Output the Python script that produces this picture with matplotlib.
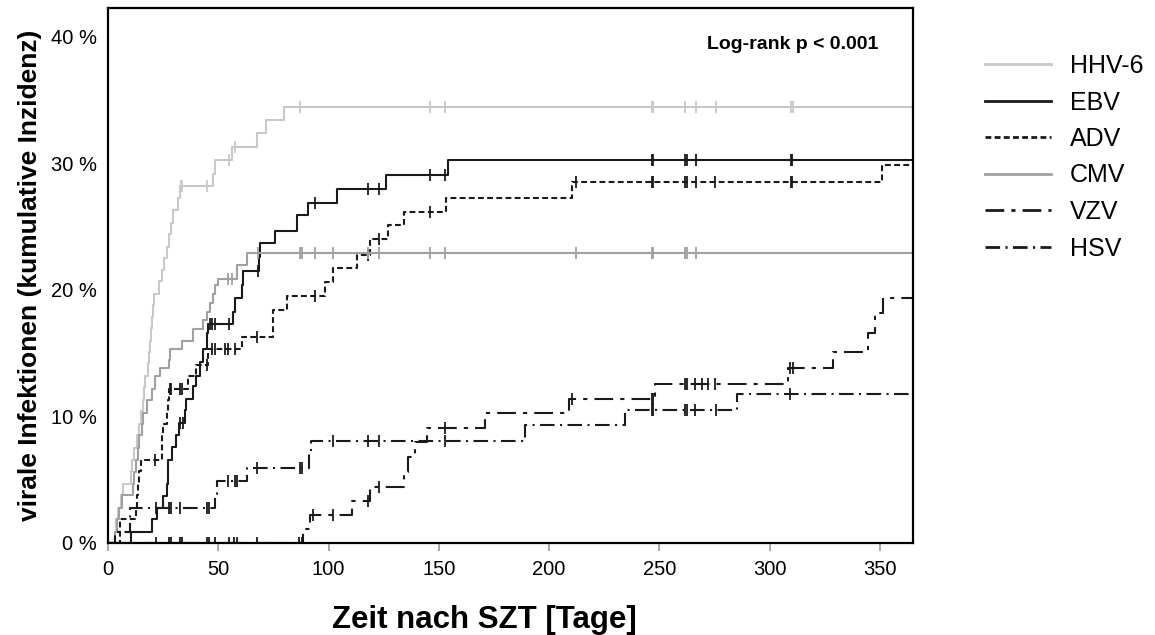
import numpy as np
import matplotlib.pyplot as plt
from matplotlib.lines import Line2D

plt.rcParams['font.family'] = ['Liberation Sans', 'DejaVu Sans']

T_END = 365

# event days and cumulative incidence (%) after each event, plus censoring days
hhv6_t = [3, 3.5, 4.5, 6, 7, 10.5, 11, 12, 13, 14, 15, 16, 16.5, 17, 18, 18.5, 19, 19.5,
          20, 20.5, 21, 23.1, 24.3, 25.5, 26.6, 27.5, 28.4, 29.5, 31.7, 32.5, 47.6, 48.5,
          56, 67.6, 71.7, 80]
hhv6_y = [0.9, 1.9, 2.8, 3.8, 4.7, 5.7, 6.6, 7.5, 8.5, 9.4, 10.4, 11.3, 12.3, 13.2, 14.2,
          15.1, 16.0, 17.0, 17.9, 18.8, 19.7, 20.7, 21.6, 22.5, 23.4, 24.4, 25.3, 26.3,
          27.3, 28.2, 29.2, 30.3, 31.3, 32.4, 33.4, 34.5]
hhv6_cens = [33, 33.4, 44.7, 54.8, 57.5, 87, 146, 153, 246.5, 247.3, 261.7, 266.7,
             275.7, 309.6, 310.5, 365]

ebv_t = [10.3, 19.8, 22, 25, 26.6, 27.2, 27.4, 28.9, 31, 32, 35, 35.2, 38.7, 40, 41.7,
         43.2, 44.8, 45.5, 56.8, 57.6, 60.6, 61.4, 68.5, 68.7, 75.7, 85.6, 90.8, 103.7,
         126, 154]
ebv_y = [0.9, 1.9, 2.8, 3.7, 4.7, 5.6, 6.6, 7.6, 8.5, 9.5, 10.5, 11.4, 12.4, 13.2, 14.3,
         15.3, 16.6, 17.3, 18.3, 19.4, 20.4, 21.5, 22.6, 23.7, 24.7, 25.9, 26.9, 28.0,
         29.1, 30.3]
ebv_cens = [32.7, 33.9, 46.3, 47, 48.5, 55, 68.2, 93.9, 118, 123, 146, 153, 246.5, 247.3,
            261.7, 262.4, 266.7, 309.6, 310.3, 365]

adv_t = [5.4, 5.6, 12.5, 13, 13.5, 14, 15, 24.3, 24.6, 25, 26.6, 27.2, 27.8, 36.4, 40,
         45.5, 60.6, 74.7, 75, 81, 98.6, 102, 113, 118.8, 127, 134.2, 153.2, 210.3, 350.9]
adv_y = [0.9, 1.9, 2.8, 3.8, 4.7, 5.7, 6.6, 7.5, 8.5, 9.4, 10.4, 11.3, 12.2, 13.2, 14.1,
         15.3, 16.3, 17.4, 18.4, 19.5, 20.6, 21.7, 22.8, 24.0, 25.1, 26.2, 27.3, 28.5, 29.9]
adv_cens = [21.3, 28.0, 28.4, 32.7, 33.4, 44.7, 47, 48.5, 53, 54.6, 57.6, 67.4, 93.9,
            118, 123, 146, 212, 246.5, 247.3, 261.7, 262.4, 266.7, 275.3, 309.6, 310.3, 365]

cmv_t = [3, 4, 5, 6.2, 11.5, 12, 12.5, 13.5, 14, 15.5, 16, 17.5, 19.8, 21.3, 23.6, 27.5,
         28, 33.4, 38.6, 43.2, 44.8, 46.3, 47.8, 48.5, 50, 58.4, 62.9]
cmv_y = [0.9, 1.9, 2.8, 3.8, 4.7, 5.6, 6.6, 7.5, 8.5, 9.4, 10.3, 11.3, 12.2, 13.2, 13.8,
         14.5, 15.3, 16.0, 16.9, 17.6, 18.3, 19.0, 19.7, 20.4, 20.9, 22.0, 22.95]
cmv_cens = [54.6, 56, 68.2, 87, 87.8, 94, 102, 118, 123, 146, 153, 212, 246.5, 247.3,
            261.7, 262.4, 266.7, 365]

vzv_t = [88.5, 91.5, 110.5, 118.8, 134, 136.2, 139.2, 144.5, 171, 208.8, 248, 308.5,
         328.6, 344.8, 347.8, 351.6]
vzv_y = [1.1, 2.2, 3.3, 4.4, 5.6, 6.8, 8.0, 9.1, 10.25, 11.4, 12.6, 13.8, 15.1, 16.6,
         18.2, 19.4]
vzv_cens = [21.8, 27.8, 28.4, 32.7, 33.4, 45, 46, 48.5, 55, 57, 58.4, 67.4, 86.8, 87.8,
            92.8, 102, 118, 123, 152.8, 210.3, 246.5, 247.3, 261.7, 262.4, 266, 269.5,
            272.2, 275.3, 309.3, 310.5, 365]

hsv_t = [3, 10, 10.2, 48.5, 49.5, 63, 91, 92, 189, 234.5, 285]
hsv_y = [0.9, 1.9, 2.8, 3.9, 4.9, 5.9, 7.0, 8.1, 9.3, 10.5, 11.75]
hsv_cens = [21.8, 27.7, 28.6, 32.7, 45, 46, 54.6, 57.6, 58.4, 67.4, 87, 87.8, 102, 118,
            123, 153, 246.5, 247.3, 261.7, 262.4, 266, 275.7, 309.3, 365]

labels = ['HHV-6', 'EBV', 'ADV', 'CMV', 'VZV', 'HSV']
series = [(hhv6_t, hhv6_y, hhv6_cens), (ebv_t, ebv_y, ebv_cens), (adv_t, adv_y, adv_cens),
          (cmv_t, cmv_y, cmv_cens), (vzv_t, vzv_y, vzv_cens), (hsv_t, hsv_y, hsv_cens)]

styles = {
    'HHV-6': dict(color='#c8c8c8', dashes=None),
    'EBV': dict(color='#1a1a1a', dashes=None),
    'ADV': dict(color='#1a1a1a', dashes=(2.8, 1.6)),
    'CMV': dict(color='#a0a0a0', dashes=None),
    'VZV': dict(color='#1a1a1a', dashes=(9.0, 3.4, 2.0, 3.4)),
    'HSV': dict(color='#1a1a1a', dashes=(7.0, 2.6, 1.0, 2.6)),
}
LW = 1.5


def step_value(t, y, when):
    idx = np.searchsorted(t, when, side='right') - 1
    return np.where(idx >= 0, np.asarray(y)[np.clip(idx, 0, None)], 0.0)


fig = plt.figure(figsize=(11.55, 6.35), dpi=100)
ax = fig.add_axes([108 / 1155, 1 - 543 / 635, 805 / 1155, 535 / 635])

for name, (t, y, cens) in zip(labels, series):
    st = styles[name]
    xs = np.r_[0, t, T_END]
    ys = np.r_[0, y, y[-1]]
    line, = ax.plot(xs, ys, drawstyle='steps-post', color=st['color'], lw=LW,
                    solid_capstyle='butt', dash_capstyle='butt')
    if st['dashes']:
        line.set_dashes(st['dashes'])
    cy = step_value(np.asarray(t), y, np.asarray(cens))
    ax.plot(cens, cy, ls='none', marker='|', ms=8, mew=1.3, color=st['color'])

ax.set_xlim(0, T_END)
ax.set_ylim(0, 535 / 12.65)
ax.set_xticks(np.arange(0, 351, 50))
ax.set_yticks([0, 10, 20, 30, 40])
ax.set_yticklabels(['0 %', '10 %', '20 %', '30 %', '40 %'])
ax.tick_params(axis='x', direction='out', length=6, width=1.2, color='#999999',
               labelsize=14.5, pad=6)
ax.tick_params(axis='y', length=0, labelsize=14.5, pad=8)
for sp in ax.spines.values():
    sp.set_linewidth(1.6)
    sp.set_color('black')

fig.text(484 / 1155, 1 - 620 / 635, 'Zeit nach SZT [Tage]', ha='center', va='center',
         fontsize=22.5, fontweight='bold')
fig.text(30 / 1155, 1 - 275 / 635, 'virale Infektionen (kumulative Inzidenz)',
         rotation=90, ha='center', va='center', fontsize=19, fontweight='bold')
ax.text(0.957, 0.931, 'Log-rank p < 0.001', transform=ax.transAxes, ha='right',
        va='center', fontsize=14, fontweight='bold')

handles = []
for name in labels:
    st = styles[name]
    h = Line2D([], [], color=st['color'], lw=2.0)
    if st['dashes']:
        h.set_dashes(tuple(d * LW / 2.0 for d in st['dashes']))
    handles.append(h)
fig.legend(handles, labels, loc='upper left', bbox_to_anchor=(985 / 1155, 1 - 54 / 635),
           frameon=False, fontsize=18, handlelength=2.65, handletextpad=0.75,
           labelspacing=0.5, borderpad=0, borderaxespad=0)

fig.savefig('out.png', dpi=100)
